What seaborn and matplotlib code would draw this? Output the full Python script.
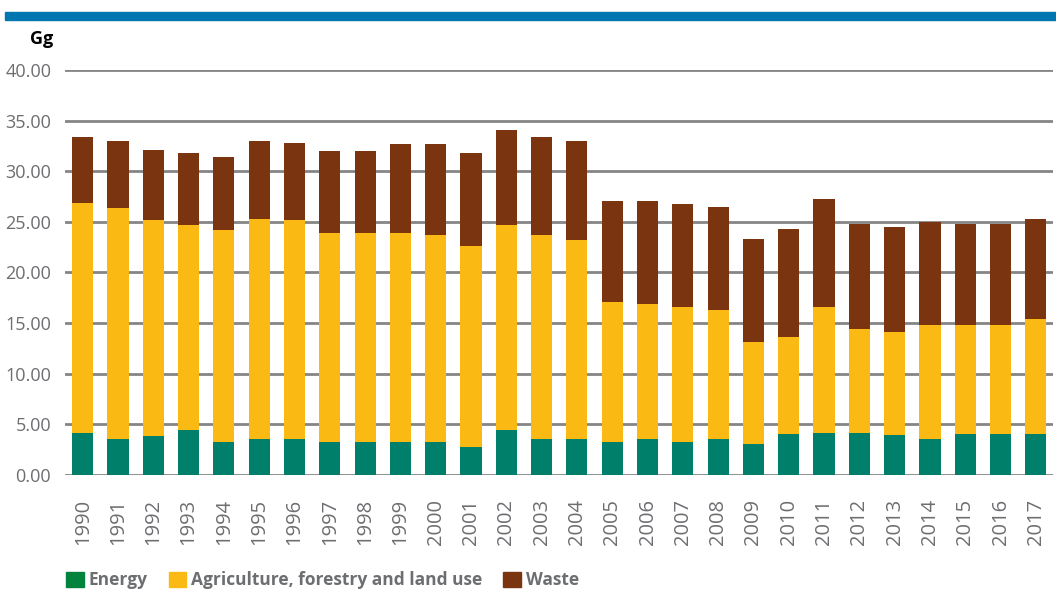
import pandas as pd
import numpy as np
import matplotlib.pyplot as plt
import seaborn as sns
from matplotlib.patches import Patch

years = [str(y) for y in range(1990, 2018)]
energy = [4.15, 3.56, 3.86, 4.45, 3.26, 3.56, 3.56, 3.26, 3.26, 3.26, 3.26, 2.77, 4.45, 3.56,
          3.56, 3.26, 3.56, 3.26, 3.56, 3.07, 4.06, 4.15, 4.15, 3.96, 3.56, 4.06, 4.06, 4.06]
agriculture = [22.75, 22.84, 21.34, 20.25, 20.94, 21.74, 21.64, 20.64, 20.64, 20.64, 20.44, 19.88, 20.25, 20.14,
               19.64, 13.84, 13.34, 13.34, 12.74, 10.03, 9.59, 12.45, 10.25, 10.14, 11.24, 10.74, 10.74, 11.34]
waste = [6.5, 6.6, 6.9, 7.1, 7.2, 7.7, 7.6, 8.1, 8.1, 8.8, 9.0, 9.15, 9.4, 9.7,
         9.8, 10.0, 10.2, 10.2, 10.2, 10.2, 10.65, 10.7, 10.4, 10.4, 10.2, 10.0, 10.0, 9.9]
labels = ['Energy', 'Agriculture, forestry and land use', 'Waste']
bar_colors = ['#007f6b', '#fbb914', '#7a3410']
legend_colors = ['#00843d', '#fbb914', '#7a3410']

data = pd.DataFrame({'year': years, 'Energy': energy, 'Agri': agriculture, 'Waste': waste})
data['lvl1'] = data['Energy']
data['lvl2'] = data['Energy'] + data['Agri']
data['lvl3'] = data['lvl2'] + data['Waste']

sns.set_style('white')
plt.rcParams['font.family'] = ['Open Sans', 'DejaVu Sans']

fig = plt.figure(figsize=(10.56, 5.93), dpi=100)
ax = fig.add_axes([0.0616, 0.199, 0.936, 0.683])

# stacked bars: draw cumulative totals from the top down
for col, c in zip(['lvl3', 'lvl2', 'lvl1'], bar_colors[::-1]):
    sns.barplot(data=data, x='year', y=col, color=c, width=0.6, saturation=1,
                ax=ax, zorder=3, linewidth=0)

ax.set_ylim(0, 40)
ax.set_xlim(-0.5, 27.5)
ax.set_yticks(np.arange(0, 40.1, 5))
ax.set_yticklabels([f'{v:.2f}' for v in np.arange(0, 40.1, 5)])
ax.yaxis.grid(True, color='#858585', linewidth=2)
ax.set_axisbelow(True)
for s in ax.spines.values():
    s.set_visible(False)
ax.set_xlabel('')
ax.set_ylabel('')
ax.tick_params(axis='y', length=0, pad=10, labelsize=13, labelcolor='#6d6e71')
ax.tick_params(axis='x', length=0, pad=17, labelsize=14.5, labelcolor='#6d6e71')
plt.setp(ax.get_xticklabels(), rotation=90, ha='center', va='top')

fig.text(0.028, 0.935, 'Gg', fontsize=13, fontweight='bold', color='black', va='center')

# blue band at the top
fig.patches.append(plt.Rectangle((0.005, 0.966), 0.995, 0.014, transform=fig.transFigure,
                                 color='#0076b0', zorder=5))

handles = [Patch(color=c, label=l) for c, l in zip(legend_colors, labels)]
leg = fig.legend(handles=handles, loc='lower left', bbox_to_anchor=(0.048, -0.02), ncol=3,
                 frameon=False, handlelength=1.0, handleheight=1.0, handletextpad=0.3,
                 columnspacing=1.2, prop={'size': 12.5, 'weight': 'bold'})
for t in leg.get_texts():
    t.set_color('#6d6e71')

fig.savefig('out.png', dpi=100)
